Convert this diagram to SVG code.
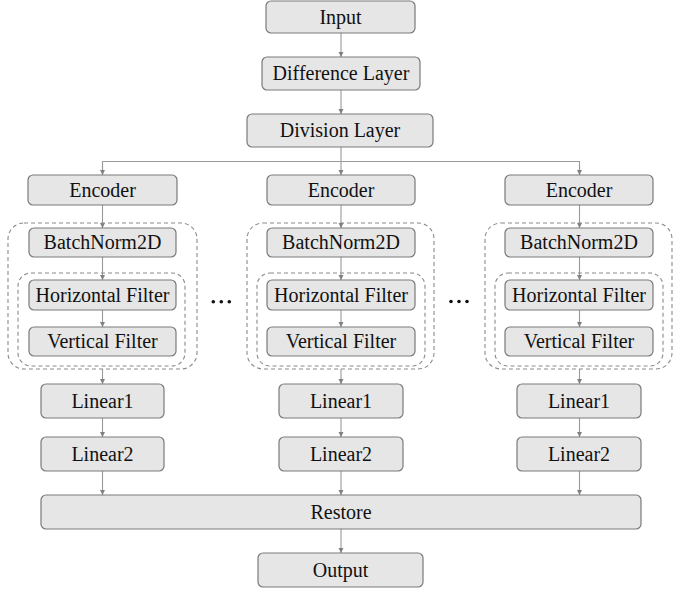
<svg xmlns="http://www.w3.org/2000/svg" width="694" height="591" viewBox="0 0 694 591" font-family="Liberation Serif, Tinos, Times New Roman, DejaVu Serif, serif">
<style>
.box{fill:#e6e6e6;stroke:#7a7a7a;stroke-width:1.2}
text{font-family:"Liberation Serif",Tinos,"Times New Roman","DejaVu Serif",serif;font-size:20px;fill:#111;text-anchor:middle}
.dash{fill:none;stroke:#8a8a8a;stroke-width:1.1;stroke-dasharray:4 3}
.c{fill:none;stroke:#999;stroke-width:1.1}
</style>
<defs>
<marker id="ah" markerWidth="6" markerHeight="6" refX="5" refY="3" orient="auto" markerUnits="userSpaceOnUse">
<path d="M0,0.5 L5,3 L0,5.5 Z" fill="#808080"/>
</marker>
</defs>
<rect width="694" height="591" fill="#fff"/>
<g id="connectors">
<line class="c" x1="341" y1="33" x2="341" y2="57" marker-end="url(#ah)"/>
<line class="c" x1="341" y1="90" x2="341" y2="114" marker-end="url(#ah)"/>
<line class="c" x1="341" y1="147" x2="341" y2="175" marker-end="url(#ah)"/>
<polyline class="c" points="102.5,175 102.5,161.5 579.5,161.5 579.5,175"/>
<line class="c" x1="102.5" y1="165" x2="102.5" y2="175" marker-end="url(#ah)"/>
<line class="c" x1="579.5" y1="165" x2="579.5" y2="175" marker-end="url(#ah)"/>
<line class="c" x1="102.5" y1="205" x2="102.5" y2="228" marker-end="url(#ah)"/>
<line class="c" x1="341" y1="205" x2="341" y2="228" marker-end="url(#ah)"/>
<line class="c" x1="579.5" y1="205" x2="579.5" y2="228" marker-end="url(#ah)"/>
<line class="c" x1="102.5" y1="257" x2="102.5" y2="280" marker-end="url(#ah)"/>
<line class="c" x1="341" y1="257" x2="341" y2="280" marker-end="url(#ah)"/>
<line class="c" x1="579.5" y1="257" x2="579.5" y2="280" marker-end="url(#ah)"/>
<line class="c" x1="102.5" y1="310" x2="102.5" y2="327" marker-end="url(#ah)"/>
<line class="c" x1="341" y1="310" x2="341" y2="327" marker-end="url(#ah)"/>
<line class="c" x1="579.5" y1="310" x2="579.5" y2="327" marker-end="url(#ah)"/>
<line class="c" x1="102.5" y1="369" x2="102.5" y2="384" marker-end="url(#ah)"/>
<line class="c" x1="341" y1="369" x2="341" y2="384" marker-end="url(#ah)"/>
<line class="c" x1="579.5" y1="369" x2="579.5" y2="384" marker-end="url(#ah)"/>
<line class="c" x1="102.5" y1="418" x2="102.5" y2="437" marker-end="url(#ah)"/>
<line class="c" x1="341" y1="418" x2="341" y2="437" marker-end="url(#ah)"/>
<line class="c" x1="579.5" y1="418" x2="579.5" y2="437" marker-end="url(#ah)"/>
<line class="c" x1="102.5" y1="471" x2="102.5" y2="495" marker-end="url(#ah)"/>
<line class="c" x1="341" y1="471" x2="341" y2="495" marker-end="url(#ah)"/>
<line class="c" x1="579.5" y1="471" x2="579.5" y2="495" marker-end="url(#ah)"/>
<line class="c" x1="341" y1="529" x2="341" y2="553" marker-end="url(#ah)"/>
</g>
<g id="input"><rect class="box" x="266" y="1" width="149" height="32" rx="5"/><text x="340.5" y="24" font-family="Liberation Serif">Input</text></g>
<g id="difference"><rect class="box" x="262" y="57" width="158" height="33" rx="5"/><text x="341" y="80" font-family="Liberation Serif">Difference Layer</text></g>
<g id="division"><rect class="box" x="247" y="114" width="186" height="33" rx="5"/><text x="340" y="137" font-family="Liberation Serif">Division Layer</text></g>

<g id="branch1">
<rect class="dash" x="8" y="223" width="189" height="146" rx="16"/>
<rect class="dash" x="18" y="273" width="167" height="93" rx="13"/>
</g>
<g id="branch2">
<rect class="dash" x="247" y="223" width="187" height="146" rx="16"/>
<rect class="dash" x="257" y="273" width="168" height="93" rx="13"/>
</g>
<g id="branch3">
<rect class="dash" x="485" y="223" width="187" height="146" rx="16"/>
<rect class="dash" x="495" y="273" width="168" height="93" rx="13"/>
</g>

<g id="encoder1"><rect class="box" x="28" y="175" width="149" height="30" rx="5"/><text x="102.5" y="197">Encoder</text></g>
<g id="encoder2"><rect class="box" x="267" y="175" width="148" height="30" rx="5"/><text x="341" y="197">Encoder</text></g>
<g id="encoder3"><rect class="box" x="505" y="175" width="148" height="30" rx="5"/><text x="579" y="197">Encoder</text></g>

<g id="bn1"><rect class="box" x="29" y="228" width="147" height="29" rx="5"/><text x="102.5" y="249">BatchNorm2D</text></g>
<g id="bn2"><rect class="box" x="267" y="228" width="148" height="29" rx="5"/><text x="341" y="249">BatchNorm2D</text></g>
<g id="bn3"><rect class="box" x="505" y="228" width="148" height="29" rx="5"/><text x="579" y="249">BatchNorm2D</text></g>

<g id="hf1"><rect class="box" x="29" y="280" width="147" height="30" rx="5"/><text x="102.5" y="302">Horizontal Filter</text></g>
<g id="hf2"><rect class="box" x="267" y="280" width="148" height="30" rx="5"/><text x="341" y="302">Horizontal Filter</text></g>
<g id="hf3"><rect class="box" x="505" y="280" width="148" height="30" rx="5"/><text x="579" y="302">Horizontal Filter</text></g>

<g id="vf1"><rect class="box" x="29" y="327" width="147" height="29" rx="5"/><text x="102.5" y="348">Vertical Filter</text></g>
<g id="vf2"><rect class="box" x="267" y="327" width="148" height="29" rx="5"/><text x="341" y="348">Vertical Filter</text></g>
<g id="vf3"><rect class="box" x="505" y="327" width="148" height="29" rx="5"/><text x="579" y="348">Vertical Filter</text></g>

<g id="dots1"><circle cx="213.3" cy="301.7" r="1.8" fill="#111"/><circle cx="221.3" cy="301.7" r="1.8" fill="#111"/><circle cx="229.3" cy="301.7" r="1.8" fill="#111"/></g>
<g id="dots2"><circle cx="451" cy="301.5" r="1.8" fill="#111"/><circle cx="459" cy="301.5" r="1.8" fill="#111"/><circle cx="467" cy="301.5" r="1.8" fill="#111"/></g>

<g id="lin1a"><rect class="box" x="41" y="384" width="123" height="34" rx="5"/><text x="102.5" y="408">Linear1</text></g>
<g id="lin1b"><rect class="box" x="279" y="384" width="124" height="34" rx="5"/><text x="341" y="408">Linear1</text></g>
<g id="lin1c"><rect class="box" x="517" y="384" width="124" height="34" rx="5"/><text x="579" y="408">Linear1</text></g>

<g id="lin2a"><rect class="box" x="41" y="437" width="123" height="34" rx="5"/><text x="102.5" y="461">Linear2</text></g>
<g id="lin2b"><rect class="box" x="279" y="437" width="124" height="34" rx="5"/><text x="341" y="461">Linear2</text></g>
<g id="lin2c"><rect class="box" x="517" y="437" width="124" height="34" rx="5"/><text x="579" y="461">Linear2</text></g>

<g id="restore"><rect class="box" x="41" y="495" width="600" height="34" rx="5"/><text x="341" y="519">Restore</text></g>
<g id="output"><rect class="box" x="258" y="553" width="165" height="34" rx="5"/><text x="340.5" y="577">Output</text></g>
</svg>
